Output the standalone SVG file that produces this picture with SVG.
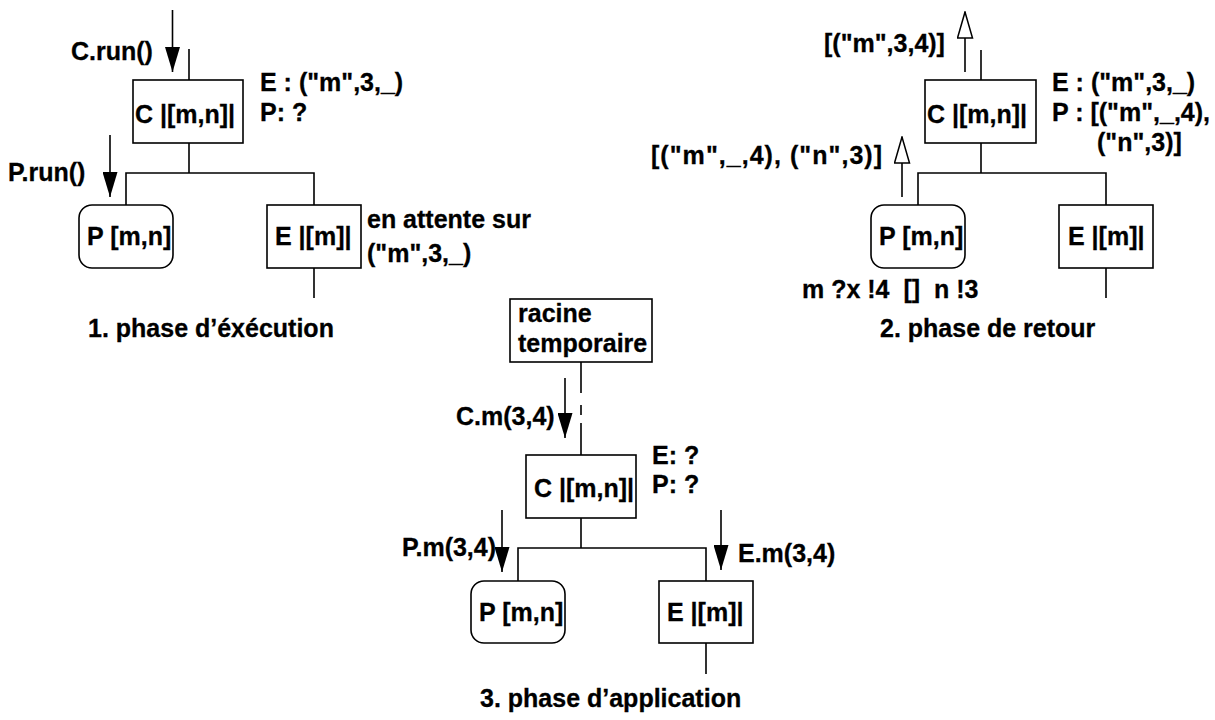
<svg xmlns="http://www.w3.org/2000/svg" width="1215" height="720" viewBox="0 0 1215 720">
<defs>
<marker id="fh" markerUnits="userSpaceOnUse" markerWidth="25" markerHeight="15" viewBox="0 0 25 15" refX="25" refY="7.5" orient="auto"><path d="M0,0 L25,7.5 L0,15 z" fill="#000"/></marker>
<marker id="hh" markerUnits="userSpaceOnUse" markerWidth="28" markerHeight="17" viewBox="-1 -1 28 17" refX="26" refY="7.5" orient="auto"><path d="M0,0 L26,7.5 L0,15 z" fill="#fff" stroke="#000" stroke-width="1.5"/></marker>
<style>
text{font-family:"Liberation Sans",Arial,Helvetica,sans-serif;font-weight:bold;font-size:25px;fill:#000;stroke:#000;stroke-width:0.3;white-space:pre}
.box{fill:#fff;stroke:#000;stroke-width:1.6}
.ln{stroke:#000;stroke-width:1.6;fill:none}
.fa{stroke:#000;stroke-width:1.6;marker-end:url(#fh)}
.ha{stroke:#000;stroke-width:1.6;marker-end:url(#hh)}
</style>
</defs>
<g id="connectors">
<line class="ln" x1="189" y1="49" x2="189" y2="80"/>
<path class="ln" d="M189,143 V173 M126,205 V173 H314 V205 M314,268 V298"/>
<line class="fa" x1="172.5" y1="10" x2="172.5" y2="72"/>
<line class="fa" x1="110" y1="135" x2="110" y2="197"/>
<line class="ln" x1="981" y1="50" x2="981" y2="80"/>
<path class="ln" d="M981,143 V173 M918,205 V173 H1106 V205 M1106,268 V298"/>
<line class="ha" x1="965" y1="72" x2="965" y2="12"/>
<line class="ha" x1="902" y1="197" x2="902" y2="137"/>
<path class="ln" d="M581,362 V393 M581,405 V415 M581,423 V455"/>
<path class="ln" d="M581,518 V548 M518,581 V548 H706 V581 M706,643 V674"/>
<line class="fa" x1="565" y1="378" x2="565" y2="438"/>
<line class="fa" x1="502" y1="510" x2="502" y2="572"/>
<line class="fa" x1="721" y1="510" x2="721" y2="570"/>
</g>
<g id="n1-C"><rect class="box" x="133" y="80" width="110" height="63"/><text x="135" y="123">C |[m,n]|</text></g>
<g id="n1-P"><rect class="box" x="79" y="205" width="94" height="63" rx="13"/><text x="87" y="245">P [m,n]</text></g>
<g id="n1-E"><rect class="box" x="267" y="205" width="94" height="63"/><text x="275" y="245">E |[m]|</text></g>
<g id="n2-C"><rect class="box" x="925" y="80" width="111" height="63"/><text x="927" y="123">C |[m,n]|</text></g>
<g id="n2-P"><rect class="box" x="871" y="205" width="94" height="63" rx="13"/><text x="879" y="245">P [m,n]</text></g>
<g id="n2-E"><rect class="box" x="1059" y="205" width="94" height="63"/><text x="1068" y="245">E |[m]|</text></g>
<g id="n3-R"><rect class="box" x="510" y="299" width="142" height="63"/><text x="518" y="322">racine</text><text x="518" y="352">temporaire</text></g>
<g id="n3-C"><rect class="box" x="526" y="455" width="110" height="63"/><text x="534" y="497">C |[m,n]|</text></g>
<g id="n3-P"><rect class="box" x="471" y="581" width="94" height="62" rx="13"/><text x="479" y="621">P [m,n]</text></g>
<g id="n3-E"><rect class="box" x="659" y="581" width="94" height="62"/><text x="667" y="621">E |[m]|</text></g>
<g id="labels">
<text x="71" y="60">C.run()</text>
<text x="260" y="91">E : ("m",3,_)</text>
<text x="260" y="121">P: ?</text>
<text x="8" y="181">P.run()</text>
<text x="367" y="228">en attente sur</text>
<text x="367" y="262">("m",3,_)</text>
<text x="88" y="337">1. phase d’éxécution</text>
<text x="824" y="52">[("m",3,4)]</text>
<text x="1052" y="91">E : ("m",3,_)</text>
<text x="1052" y="121">P : [("m",_,4),</text>
<text x="1097" y="151">("n",3)]</text>
<text x="651" y="164" textLength="231" lengthAdjust="spacing">[("m",_,4), ("n",3)]</text>
<text x="802" y="298">m ?x !4  []  n !3</text>
<text x="880" y="337">2. phase de retour</text>
<text x="456" y="425">C.m(3,4)</text>
<text x="652" y="464">E: ?</text>
<text x="652" y="493">P: ?</text>
<text x="402" y="556">P.m(3,4)</text>
<text x="738" y="562">E.m(3,4)</text>
<text x="480" y="707">3. phase d’application</text>
</g>
</svg>
